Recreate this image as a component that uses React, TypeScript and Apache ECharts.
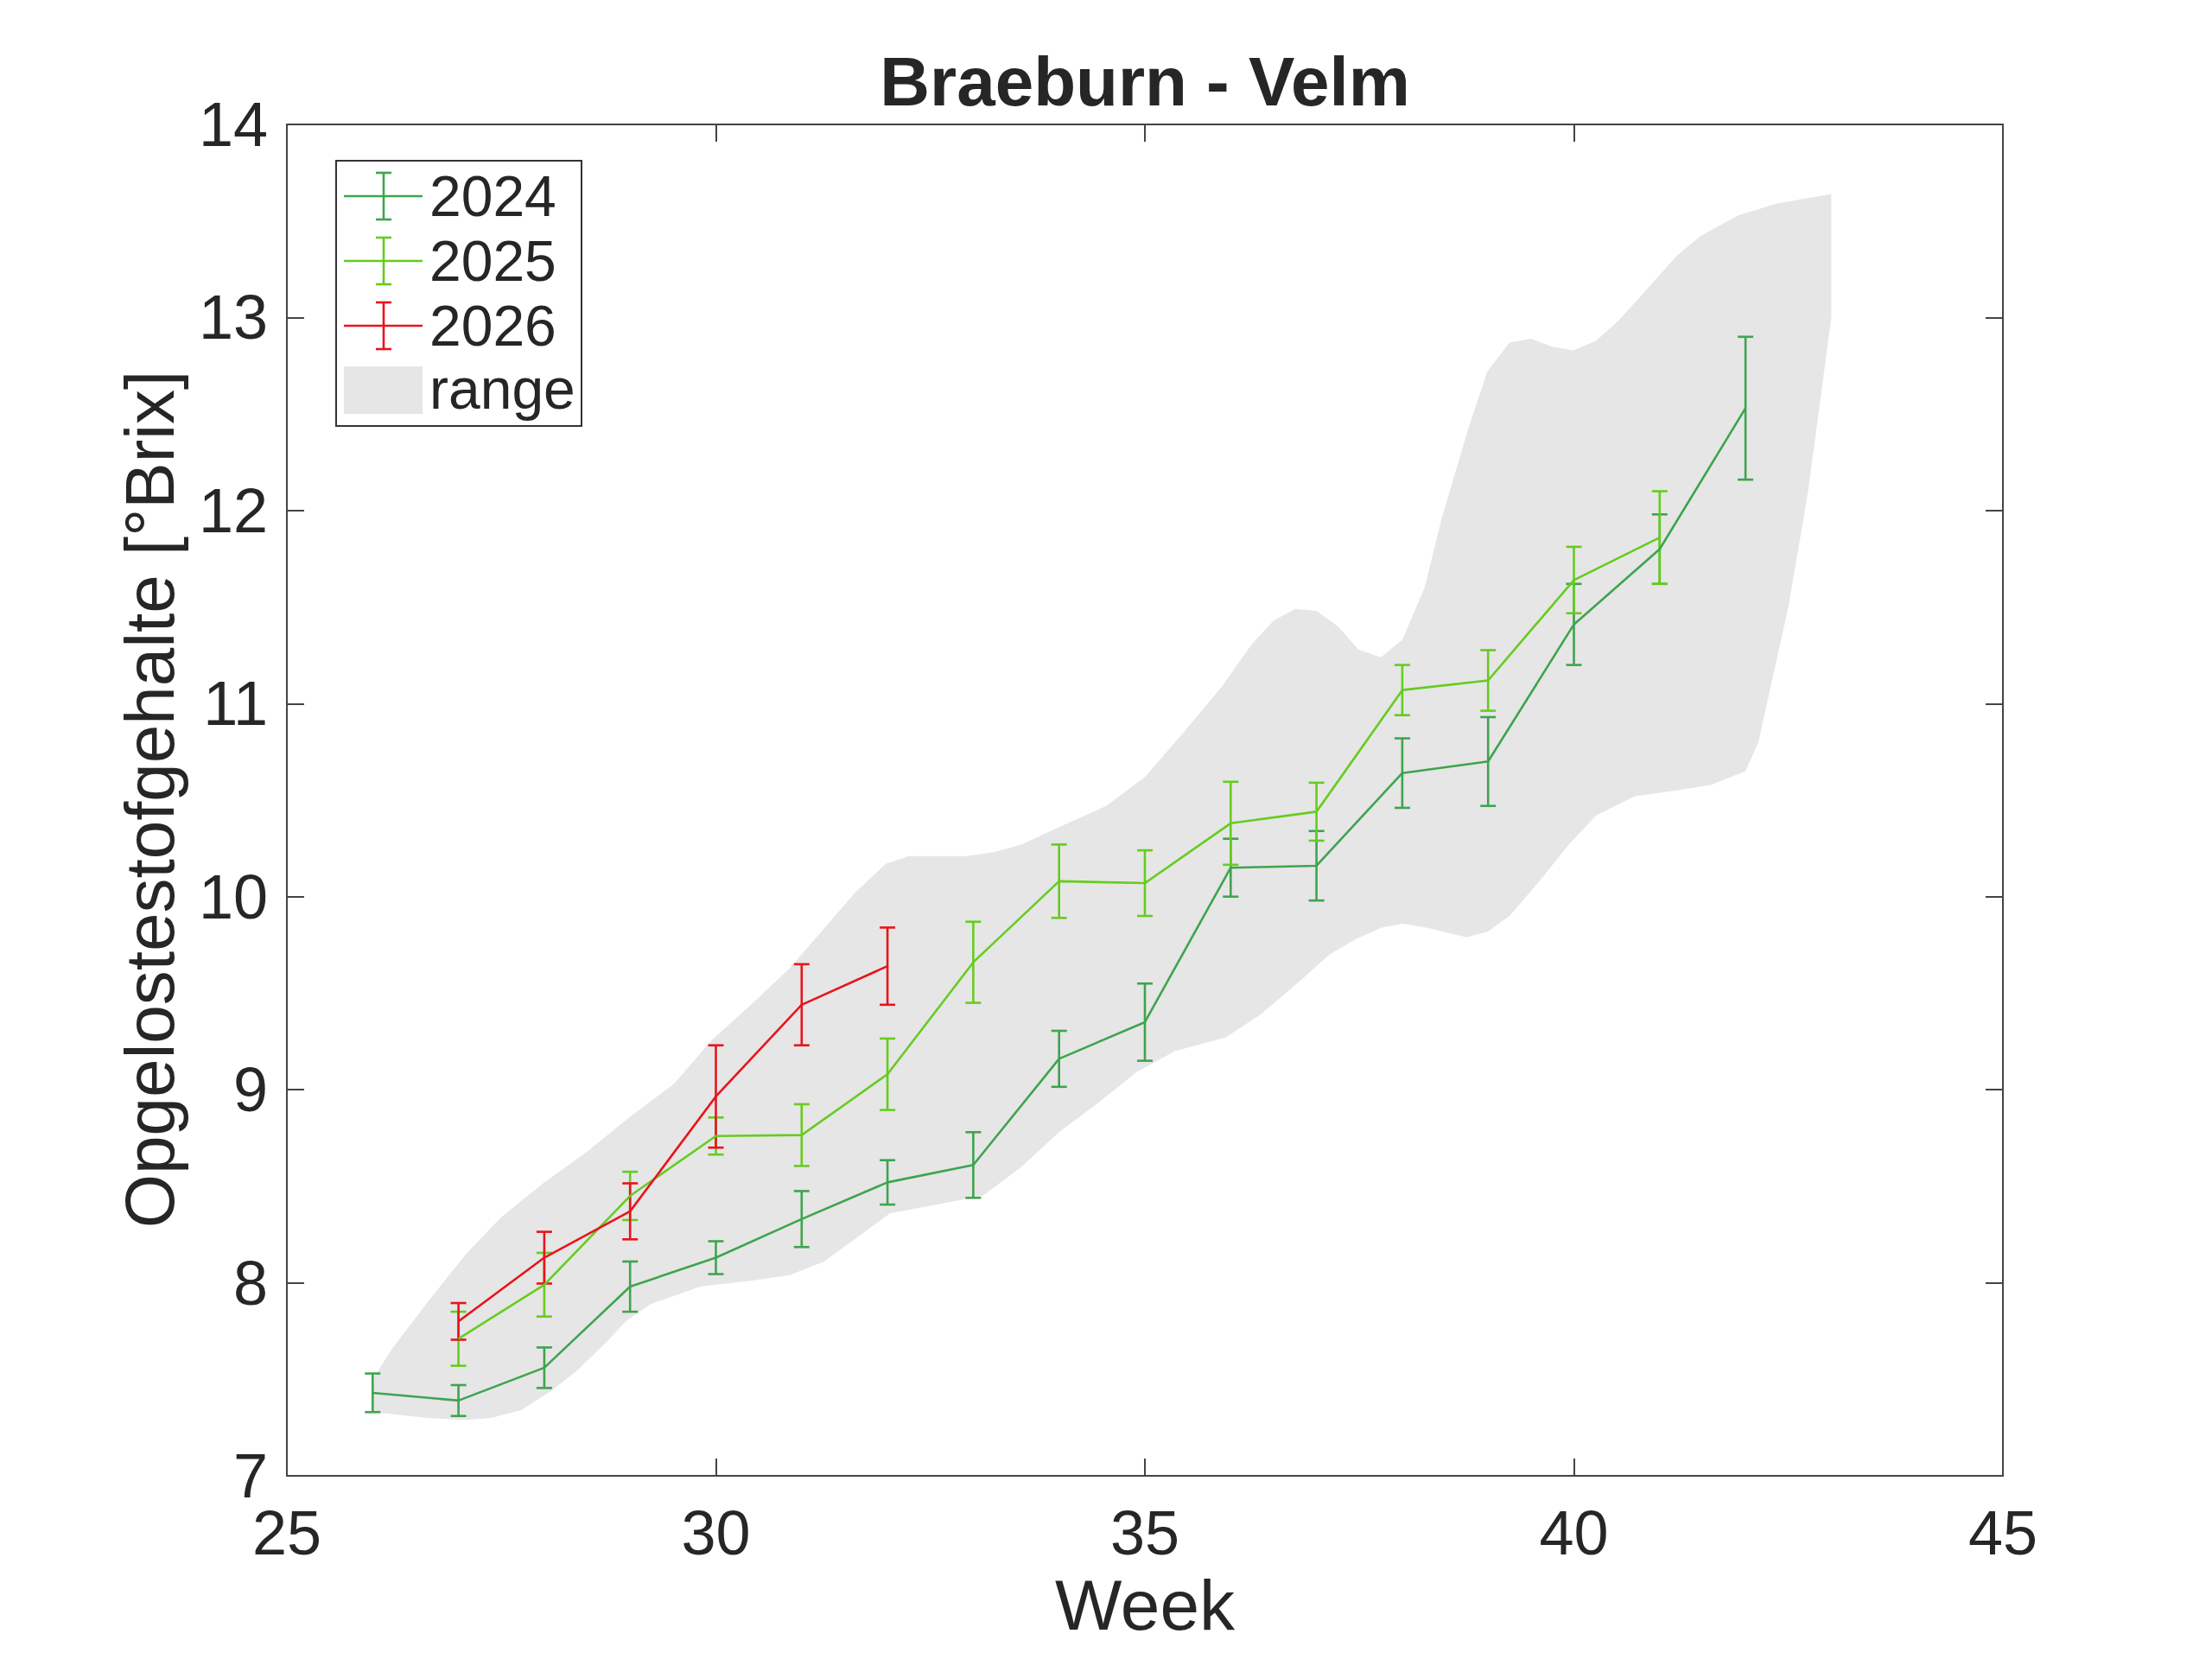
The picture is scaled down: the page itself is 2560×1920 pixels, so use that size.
import React, { useEffect, useRef } from "react";
import * as echarts from "echarts";

// ---- data ----
const weeks2024 = [26, 27, 28, 29, 30, 31, 32, 33, 34, 35, 36, 37, 38, 39, 40, 41, 42];
const values2024 = [7.43, 7.39, 7.56, 7.98, 8.13, 8.33, 8.52, 8.61, 9.16, 9.35, 10.15, 10.16, 10.64, 10.70, 11.41, 11.80, 12.53];
const errors2024 = [0.10, 0.08, 0.105, 0.13, 0.085, 0.145, 0.115, 0.17, 0.145, 0.20, 0.15, 0.18, 0.18, 0.23, 0.21, 0.18, 0.37];

const weeks2025 = [27, 28, 29, 30, 31, 32, 33, 34, 35, 36, 37, 38, 39, 40, 41];
const values2025 = [7.71, 7.99, 8.45, 8.76, 8.765, 9.08, 9.66, 10.08, 10.07, 10.38, 10.44, 11.07, 11.12, 11.64, 11.86];
const errors2025 = [0.14, 0.165, 0.125, 0.096, 0.16, 0.185, 0.21, 0.19, 0.17, 0.215, 0.15, 0.13, 0.157, 0.172, 0.24];

const weeks2026 = [27, 28, 29, 30, 31, 32];
const values2026 = [7.80, 8.13, 8.37, 8.965, 9.44, 9.64];
const errors2026 = [0.095, 0.134, 0.145, 0.265, 0.21, 0.20];

const rangeUpperWeeks = [26.0, 26.23, 26.64, 27.09, 27.5, 28.0, 28.5, 29.0, 29.51, 29.96, 30.41, 30.86, 31.31, 31.62, 31.98, 32.25, 32.93, 33.24, 33.56, 34.0, 34.55, 35.0, 35.45, 35.9, 36.25, 36.5, 36.75, 37.0, 37.25, 37.49, 37.75, 38.0, 38.26, 38.46, 38.78, 38.99, 39.25, 39.5, 39.74, 39.99, 40.26, 40.51, 40.8, 41.2, 41.47, 41.92, 42.37, 43.0];
const rangeUpperValues = [7.50, 7.66, 7.90, 8.15, 8.34, 8.52, 8.68, 8.86, 9.03, 9.26, 9.44, 9.63, 9.86, 10.02, 10.17, 10.21, 10.21, 10.23, 10.27, 10.36, 10.47, 10.62, 10.85, 11.09, 11.31, 11.43, 11.49, 11.48, 11.40, 11.28, 11.24, 11.33, 11.60, 11.96, 12.44, 12.72, 12.87, 12.89, 12.85, 12.83, 12.88, 12.98, 13.12, 13.32, 13.42, 13.53, 13.59, 13.64];
const rangeLowerWeeks = [26.0, 26.64, 27.09, 27.38, 27.73, 28.08, 28.37, 28.72, 28.95, 29.24, 29.82, 30.4, 30.86, 31.26, 31.6, 32.03, 32.75, 33.11, 33.56, 34.0, 34.45, 34.9, 35.35, 35.94, 36.35, 36.8, 37.15, 37.46, 37.76, 38.0, 38.28, 38.75, 39.0, 39.25, 39.58, 39.94, 40.26, 40.71, 41.2, 41.6, 42.0, 42.15, 42.3, 42.5, 42.73, 43.0];
const rangeLowerValues = [7.33, 7.30, 7.29, 7.30, 7.34, 7.44, 7.54, 7.69, 7.80, 7.89, 7.98, 8.01, 8.04, 8.11, 8.22, 8.36, 8.42, 8.45, 8.60, 8.78, 8.93, 9.09, 9.20, 9.27, 9.39, 9.56, 9.70, 9.78, 9.84, 9.86, 9.84, 9.79, 9.82, 9.90, 10.07, 10.27, 10.42, 10.52, 10.55, 10.58, 10.65, 10.80, 11.10, 11.50, 12.10, 13.00];

const xTicks = { min: 25, max: 45, interval: 5 };
const yTicks = { min: 7, max: 14, interval: 1 };

const legendNames = ["2024", "2025", "2026", "range"];

// ---- styles ----
const COLORS = { y2024: "#3ea44e", y2025: "#66cc1f", y2026: "#e8141b", band: "#e6e6e6" };
const FONT = "'Liberation Sans', Arial, Helvetica, sans-serif";
const AXIS_COLOR = "#444444";
const TEXT_COLOR = "#262626";

const GRID = { left: 332, top: 144, width: 1986, height: 1564 };

function errorSeries(name: string, weeks: number[], values: number[], errors: number[], color: string) {
  return {
    type: "custom",
    name: name + "-err",
    xAxisIndex: 0,
    yAxisIndex: 0,
    z: 3,
    encode: { x: 0, y: 1 },
    data: weeks.map((w, i) => [w, values[i], errors[i]]),
    renderItem: (params: any, api: any) => {
      const w = api.value(0);
      const v = api.value(1);
      const e = api.value(2);
      const top = api.coord([w, v + e]);
      const bot = api.coord([w, v - e]);
      const hw = 9;
      const style = { stroke: color, lineWidth: 2.6 };
      return {
        type: "group",
        children: [
          { type: "line", shape: { x1: top[0], y1: top[1], x2: bot[0], y2: bot[1] }, style },
          { type: "line", shape: { x1: top[0] - hw, y1: top[1], x2: top[0] + hw, y2: top[1] }, style },
          { type: "line", shape: { x1: bot[0] - hw, y1: bot[1], x2: bot[0] + hw, y2: bot[1] }, style },
        ],
      };
    },
  };
}

function lineSeries(name: string, weeks: number[], values: number[], color: string) {
  return {
    type: "line",
    name,
    xAxisIndex: 0,
    yAxisIndex: 0,
    z: 3,
    symbol: "none",
    lineStyle: { color, width: 2.6 },
    data: weeks.map((w, i) => [w, values[i]]),
  };
}

export default function App() {
  const ref = useRef<HTMLDivElement>(null);
  useEffect(() => {
    document.body.style.margin = "0";
    if (!ref.current) return;
    const chart = echarts.init(ref.current, null, { renderer: "svg" });

    const axisLineStyle = { color: AXIS_COLOR, width: 2 };
    const labelStyle = { fontSize: 72, color: TEXT_COLOR, fontFamily: FONT };

    // legend graphics
    const lx0 = 398, lx1 = 489, lxc = 444, rowY0 = 227, rowStep = 75;
    const legendColors = [COLORS.y2024, COLORS.y2025, COLORS.y2026];
    const legendGraphics: any[] = [
      { type: "rect", shape: { x: 389, y: 186, width: 284, height: 307 }, style: { fill: "#ffffff", stroke: "#333333", lineWidth: 2 }, z: 100 },
    ];
    legendColors.forEach((c, i) => {
      const yy = rowY0 + i * rowStep;
      const st = { stroke: c, lineWidth: 2.6 };
      legendGraphics.push(
        { type: "line", shape: { x1: lx0, y1: yy, x2: lx1, y2: yy }, style: st, z: 101 },
        { type: "line", shape: { x1: lxc, y1: yy - 27, x2: lxc, y2: yy + 27 }, style: st, z: 101 },
        { type: "line", shape: { x1: lxc - 9, y1: yy - 27, x2: lxc + 9, y2: yy - 27 }, style: st, z: 101 },
        { type: "line", shape: { x1: lxc - 9, y1: yy + 27, x2: lxc + 9, y2: yy + 27 }, style: st, z: 101 },
        { type: "text", x: 497, y: yy, style: { text: legendNames[i], font: `66px ${FONT}`, fill: TEXT_COLOR, textVerticalAlign: "middle", textAlign: "left" }, z: 101 }
      );
    });
    const ry = rowY0 + 3 * rowStep;
    legendGraphics.push(
      { type: "rect", shape: { x: 398, y: ry - 28, width: 91, height: 55 }, style: { fill: COLORS.band }, z: 101 },
      { type: "text", x: 497, y: ry - 2, style: { text: legendNames[3], font: `66px ${FONT}`, fill: TEXT_COLOR, textVerticalAlign: "middle", textAlign: "left" }, z: 101 }
    );

    const option: any = {
      animation: false,
      backgroundColor: "#ffffff",
      grid: { ...GRID, containLabel: false },
      xAxis: [
        {
          type: "value", ...xTicks, position: "bottom",
          axisLine: { show: true, lineStyle: axisLineStyle },
          axisTick: { show: true, inside: true, length: 20, lineStyle: axisLineStyle },
          axisLabel: { ...labelStyle, margin: 30 },
          splitLine: { show: false },
        },
        {
          type: "value", ...xTicks, position: "top",
          axisLine: { show: true, lineStyle: axisLineStyle },
          axisTick: { show: true, inside: true, length: 20, lineStyle: axisLineStyle },
          axisLabel: { show: false },
          splitLine: { show: false },
        },
      ],
      yAxis: [
        {
          type: "value", ...yTicks, position: "left",
          axisLine: { show: true, lineStyle: axisLineStyle },
          axisTick: { show: true, inside: true, length: 20, lineStyle: axisLineStyle },
          axisLabel: { ...labelStyle, margin: 22 },
          splitLine: { show: false },
        },
        {
          type: "value", ...yTicks, position: "right",
          axisLine: { show: true, lineStyle: axisLineStyle },
          axisTick: { show: true, inside: true, length: 20, lineStyle: axisLineStyle },
          axisLabel: { show: false },
          splitLine: { show: false },
        },
      ],
      graphic: [
        { type: "text", x: 1325, y: 94, style: { text: "Braeburn - Velm", font: `bold 80px ${FONT}`, fill: TEXT_COLOR, textAlign: "center", textVerticalAlign: "middle" } },
        { type: "text", x: 1325, y: 1857, style: { text: "Week", font: `82px ${FONT}`, fill: TEXT_COLOR, textAlign: "center", textVerticalAlign: "middle" } },
        { type: "text", x: 173, y: 925, rotation: Math.PI / 2, style: { text: "Opgelostestofgehalte [°Brix]", font: `80px ${FONT}`, fill: TEXT_COLOR, textAlign: "center", textVerticalAlign: "middle" } },
        ...legendGraphics,
      ],
      series: [
        {
          type: "custom",
          name: "range",
          xAxisIndex: 0,
          yAxisIndex: 0,
          z: 1,
          encode: { x: 0, y: 1 },
          data: [[rangeUpperWeeks[0], rangeUpperValues[0]]],
          renderItem: (params: any, api: any) => {
            const pts: number[][] = [];
            rangeUpperWeeks.forEach((w, i) => pts.push(api.coord([w, rangeUpperValues[i]])));
            for (let i = rangeLowerWeeks.length - 1; i >= 0; i--) {
              pts.push(api.coord([rangeLowerWeeks[i], rangeLowerValues[i]]));
            }
            return { type: "polygon", shape: { points: pts }, style: { fill: COLORS.band } };
          },
        },
        errorSeries("2024", weeks2024, values2024, errors2024, COLORS.y2024),
        lineSeries("2024", weeks2024, values2024, COLORS.y2024),
        errorSeries("2025", weeks2025, values2025, errors2025, COLORS.y2025),
        lineSeries("2025", weeks2025, values2025, COLORS.y2025),
        errorSeries("2026", weeks2026, values2026, errors2026, COLORS.y2026),
        lineSeries("2026", weeks2026, values2026, COLORS.y2026),
      ],
    };
    chart.setOption(option);
    return () => chart.dispose();
  }, []);
  return <div ref={ref} style={{ width: 2560, height: 1920 }} />;
}
